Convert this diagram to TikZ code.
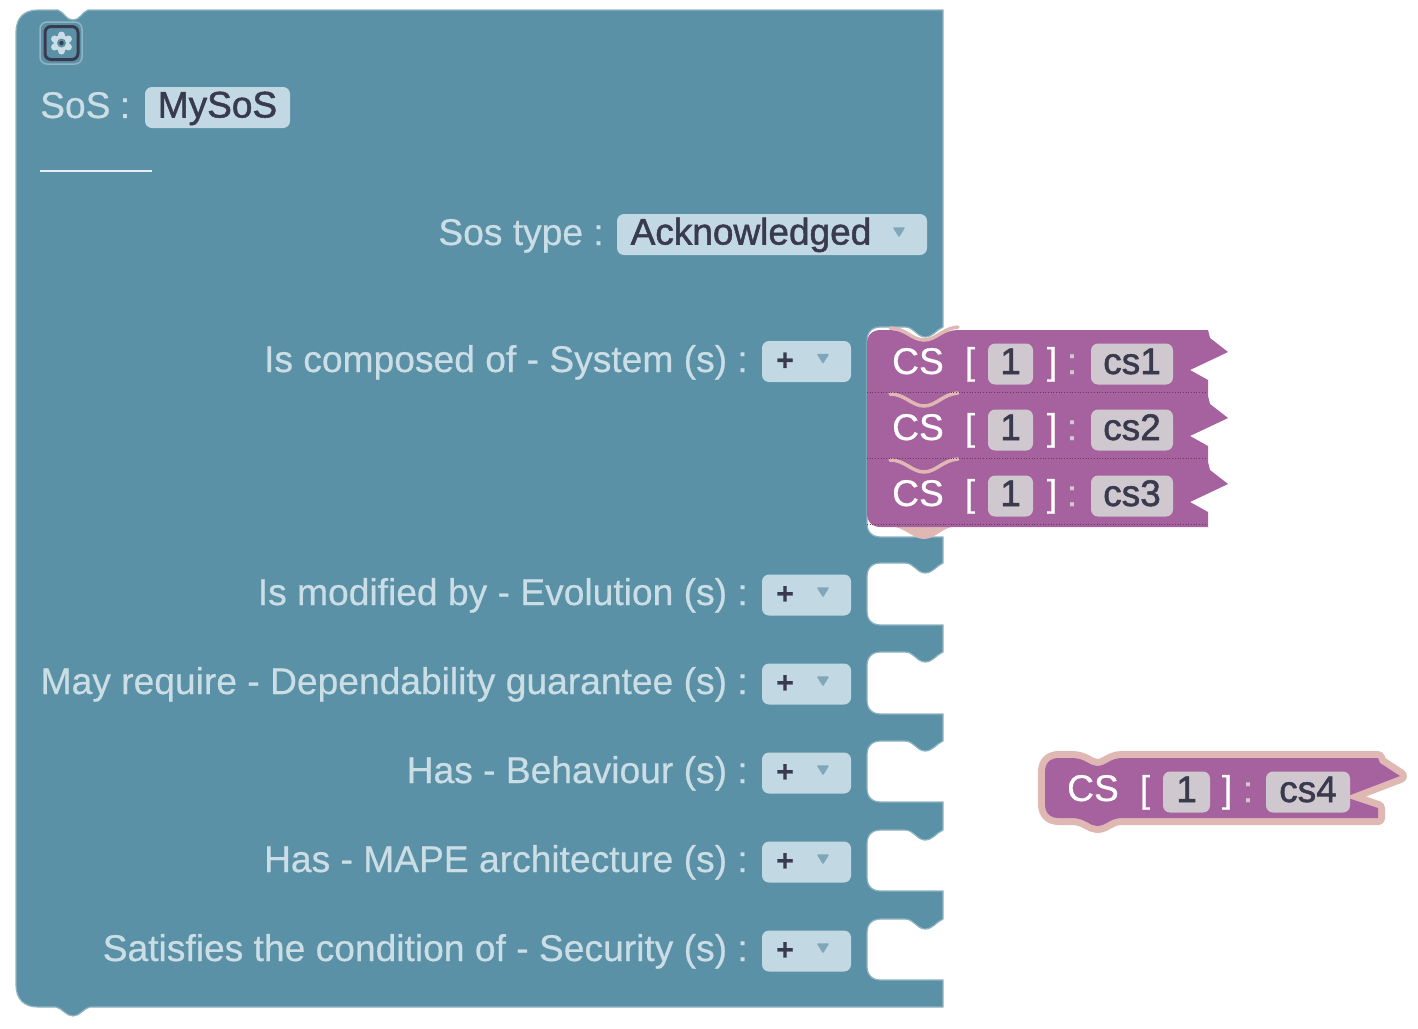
\documentclass[tikz,border=0pt]{standalone}
\usepackage{fontspec}
\setmainfont[FakeBold=0.5]{Liberation Sans}
\newfontfamily\fieldfont[FakeBold=1.4]{Liberation Sans}
\definecolor{teal}{HTML}{5B91A6}
\definecolor{tealedge}{HTML}{8FB4C3}
\definecolor{fieldblue}{HTML}{C2D8E3}
\definecolor{fieldpink}{HTML}{CFC8CE}
\definecolor{ink}{HTML}{3A3A4E}
\definecolor{lbl}{HTML}{CBDEE6}
\definecolor{plum}{HTML}{A6619F}
\definecolor{halo}{HTML}{DFB8B4}
\definecolor{triang}{HTML}{7FA6B9}
\tikzset{
  x=1pt,y=-1pt,
  base font/.style={font=\fontsize{37.2}{40}\selectfont},
  label text/.style={base font,text=lbl,inner sep=0pt,anchor=base east},
  head text/.style={base font,text=#1,inner sep=0pt,anchor=base},
  head text/.default=lbl,
  field/.style={font=\fontsize{37}{40}\fieldfont,fill=fieldblue,text=ink,rounded corners=7,inner sep=0pt,
    text height=27pt,text depth=7pt,minimum height=41pt,anchor=center},
  pink field/.style={field,fill=fieldpink},
  plus sign/.style={font=\fontsize{30}{30}\selectfont\bfseries,text=ink,inner sep=0pt},
  caret/.style={fill=triang,draw=triang,line width=1.5pt,line join=round},
  inp/.style 2 args={insert path={
    -- (943,#1) .. controls (936,#1+3) and (933,#1+10) .. (925,#1+10)
    .. controls (917,#1+10) and (914,#1) .. (905,#1)
    -- (881,#1) .. controls (872,#1) and (867,#1+5) .. (867,#1+14)
    -- (867,#2-14) .. controls (867,#2-5) and (872,#2) .. (881,#2)
    -- (943,#2)}},
  csrow/.style={insert path={
    -- (1208,#1) -- (1210,#1+8) -- (1228,#1+22) -- (1190,#1+40) -- (1208,#1+50) -- (1208,#1+66)}},
}
\newcommand{\caretat}[2]{\fill[caret] (#1-5,#2-4) -- (#1+5,#2-4) -- (#1,#2+4) -- cycle;}
\begin{document}
\begin{tikzpicture}
\useasboundingbox (0,0) rectangle (1418,1028);
% main block
\path[fill=teal,draw=tealedge,line width=1.2pt]
  (16,32) .. controls (16,18) and (24,10) .. (38,10)
  -- (58,10) .. controls (64,12) and (66,20) .. (73,20)
  .. controls (80,20) and (82,12) .. (88,10)
  -- (943,10) [inp={327}{537}] [inp={563}{625}] [inp={652}{714}]
  [inp={741}{802}] [inp={830}{891}] [inp={919}{980}]
  -- (943,1007) -- (90,1007)
  .. controls (84,1008) and (80,1016) .. (73,1016)
  .. controls (66,1016) and (62,1008) .. (56,1007)
  -- (38,1007) .. controls (24,1007) and (16,999) .. (16,985) -- cycle;
% gear icon
\node[draw=tealedge,line width=1.5pt,rounded corners=7,minimum size=42pt,inner sep=0pt] (gearbox) at (61,43) {};
\node[draw=ink,line width=3pt,rounded corners=6,minimum size=33pt,inner sep=0pt] (gearframe) at (61.5,43) {};
\foreach \a in {30,90,150,210,270,330}
  \fill[lbl] (61.5,43) ++(\a:8) circle (3.5);
\fill[lbl] (61.5,43) circle (8);
\fill[teal] (61.5,43) circle (4.5);
\fill[ink] (61.5,43) circle (2.2);
% header
\node[head text=lbl,anchor=base west] (sos) at (40,118) {SoS};
\node[head text=lbl] (soscolon) at (125,118) {:};
\node[field,minimum width=145pt] (mysos) at (217.5,107.5) {MySoS};
\draw[white!85!teal,line width=2pt] (40,171) coordinate (ruleA) -- (152,171) coordinate (ruleB);
% type
\node[label text] (soslabel) at (604,245) {Sos type :};
\node[field,minimum width=310pt] (ack) at (772,234.5) {Acknowledged\kern42pt\relax};
\caretat{899}{232}
% rows
\foreach \n/\lab/\by/\cy in {a/Is composed of - System (s) :/372/361.5,
  b/Is modified by - Evolution (s) :/605/595,
  c/May require - Dependability guarantee (s) :/694/684,
  d/Has - Behaviour (s) :/783/773,
  e/Has - MAPE architecture (s) :/872/862,
  f/Satisfies the condition of - Security (s) :/961/951}{
  \node[label text] (lab\n) at (748,\by) {\lab};
  \node[field,minimum width=89pt] (drop\n) at (806.5,\cy) {};
  \node[plus sign] (plus\n) at (785,\cy) {+};
  \caretat{823}{\cy-3}
}
% stacked CS blocks
\fill[halo] (887,526) .. controls (905,526) and (912,539) .. (924,539)
  .. controls (936,539) and (943,526) .. (958,526) -- cycle;
\path[fill=plum]
  (867,344) .. controls (867,335) and (872,330) .. (881,330) -- (890,330)
  .. controls (905,330) and (912,341) .. (924,341)
  .. controls (936,341) and (943,330) .. (958,330)
  [csrow=330] [csrow=396] [csrow=462] -- (1208,527) -- (881,527)
  .. controls (872,527) and (867,522) .. (867,513) -- cycle;
\foreach \y in {0,66,132}
  \draw[halo,line width=3.5pt,line cap=round]
    (890,328+\y) .. controls (905,328+\y) and (912,340+\y) .. (924,340+\y)
    .. controls (936,340+\y) and (943,328+\y) .. (958,327+\y);
\foreach \y in {392,458,524}
  \draw[plum!60!black,line width=.7pt,dotted] (867,\y) -- (1206,\y);
\foreach \n/\t/\c in {1/cs1/364,2/cs2/430,3/cs3/496}{
  \node[head text=white] (cs\n) at (918,\c+10) {CS};
  \node[head text=white] (open\n) at (970,\c+10) {[};
  \node[pink field,minimum width=45pt] (num\n) at (1010.5,\c) {1};
  \node[head text=white] (close\n) at (1052,\c+10) {]};
  \node[head text=fieldpink] (colon\n) at (1072,\c+10) {:};
  \node[pink field,minimum width=82pt] (name\n) at (1132,\c) {\t};
}
% detached CS block
\path[fill=plum,draw=halo,line width=14pt,line join=round]
  (1045,772) .. controls (1045,763) and (1050,758) .. (1059,758) -- (1072,758)
  .. controls (1085,758) and (1090,766) .. (1097,766)
  .. controls (1106,766) and (1110,758) .. (1122,758)
  -- (1378,758) -- (1380,763) -- (1400,776) -- (1345,797) -- (1378,808) -- (1378,818)
  -- (1122,818) .. controls (1110,818) and (1106,826) .. (1097,826)
  .. controls (1090,826) and (1085,818) .. (1072,818) -- (1059,818)
  .. controls (1050,818) and (1045,813) .. (1045,804) -- cycle;
\path[fill=plum]
  (1045,772) .. controls (1045,763) and (1050,758) .. (1059,758) -- (1072,758)
  .. controls (1085,758) and (1090,766) .. (1097,766)
  .. controls (1106,766) and (1110,758) .. (1122,758)
  -- (1378,758) -- (1380,763) -- (1400,776) -- (1345,797) -- (1378,808) -- (1378,818)
  -- (1122,818) .. controls (1110,818) and (1106,826) .. (1097,826)
  .. controls (1090,826) and (1085,818) .. (1072,818) -- (1059,818)
  .. controls (1050,818) and (1045,813) .. (1045,804) -- cycle;
\node[head text=white] (cs4) at (1093,801) {CS};
\node[head text=white] (open4) at (1145,802) {[};
\node[pink field,minimum width=47pt] (num4) at (1186.5,792) {1};
\node[head text=white] (close4) at (1227,802) {]};
\node[head text=fieldpink] (colon4) at (1248,802) {:};
\node[pink field,minimum width=84pt] (name4) at (1308,792) {cs4};
\end{tikzpicture}
\end{document}
